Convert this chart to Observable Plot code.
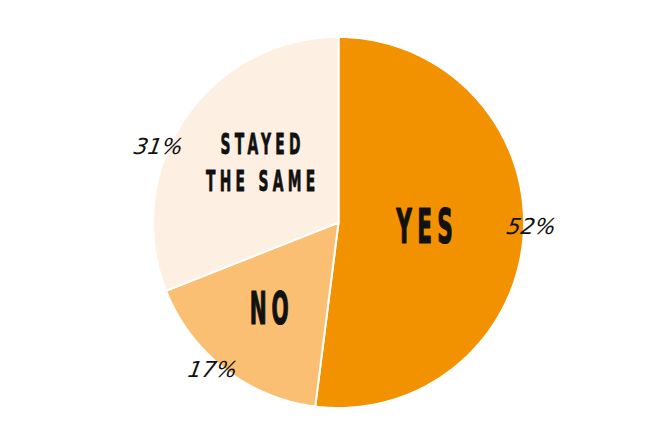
<!DOCTYPE html>
<html>
<head>
<meta charset="utf-8">
<script src="https://cdn.jsdelivr.net/npm/d3@7"></script>
<script src="https://cdn.jsdelivr.net/npm/@observablehq/plot@0.6"></script>
<style>
  html, body { margin: 0; padding: 0; background: #fff; }
  #chart { width: 650px; height: 446px; }
</style>
</head>
<body>
<div id="chart"></div>
<script>
// ---- data ----
const categories = ["YES", "NO", "STAYED\nTHE SAME"];
const values = [52, 17, 31];
const percentLabels = ["52%", "17%", "31%"];
const colors = ["#F39200", "#FBBF74", "#FDEFE1"];

// ---- layout (not data) ----
const W = 650, H = 446, CX = 338, CY = 222, R = 185.5;
// label placement: angle (deg clockwise from top) and radius factor
const catPos = [{a: 93.5, r: 0.465}, {a: 218.5, r: 0.6}, {a: 308.5, r: 0.537}];
const pctPos = [{a: 91.2, r: 1.04}, {a: 220.4, r: 1.046}, {a: 292.9, r: 1.053}];
const catSize = [48, 45, 29];
const catSX = [0.5, 0.5, 0.53];   // horizontal condensing of the poster type
const catLS = [0.22, 0.22, 0.28]; // letter spacing (em)

const total = d3.sum(values);
let acc = 0;
const slices = values.map((v, i) => {
  const s = acc / total * 2 * Math.PI;
  acc += v;
  const e = acc / total * 2 * Math.PI;
  return {i, cat: categories[i], start: s, end: e};
});

// polygon vertices of each wedge (center + arc)
const wedgePts = [];
for (const sl of slices) {
  wedgePts.push({i: sl.i, x: 0, y: 0});
  const n = Math.max(8, Math.ceil((sl.end - sl.start) / (Math.PI / 180)));
  for (let k = 0; k <= n; k++) {
    const a = sl.start + (sl.end - sl.start) * k / n;
    wedgePts.push({i: sl.i, x: Math.sin(a), y: Math.cos(a)});
  }
  wedgePts.push({i: sl.i, x: 0, y: 0});
}

const pol = (p) => ({x: p.r * Math.sin(p.a * Math.PI / 180), y: p.r * Math.cos(p.a * Math.PI / 180)});
const catLabels = categories.map((c, i) => ({i, text: c, size: catSize[i], ...pol(catPos[i])}));
const pctData = percentLabels.map((t, i) => ({i, text: t, ...pol(pctPos[i])}));

const catFont = "'Liberation Sans Narrow', 'DejaVu Sans Condensed', 'DejaVu Sans', sans-serif";
const chart = Plot.plot({
  width: W,
  height: H,
  margin: 0,
  x: {domain: [-CX / R, (W - CX) / R], range: [0, W], axis: null},
  y: {domain: [-(H - CY) / R, CY / R], range: [H, 0], axis: null},
  marks: [
    Plot.line(wedgePts, {x: "x", y: "y", z: "i", fill: d => colors[d.i], stroke: "#fff", strokeWidth: 2, curve: "linear"}),
    Plot.text(catLabels.slice(0, 2), {x: "x", y: "y", text: "text", fontSize: d => d.size, fill: "#111", stroke: "#111", strokeWidth: 1.2, fontWeight: "bold", fontFamily: catFont}),
    Plot.text(catLabels.slice(2), {x: "x", y: "y", text: "text", fontSize: d => d.size, fill: "#111", stroke: "#111", strokeWidth: 0.8, fontWeight: "bold", lineHeight: 1.3, fontFamily: catFont}),
    Plot.text(pctData, {x: "x", y: "y", text: "text", fontSize: 22, fill: "#111", fontStyle: "italic", fontWeight: 200, fontFamily: "'DejaVu Sans', sans-serif"})
  ]
});

// condense the category labels (poster-style condensed type)
const groups = d3.select(chart).selectAll('g[aria-label="text"]').nodes();
let li = 0;
groups.slice(0, 2).forEach(g => {
  d3.select(g).selectAll("text").each(function() {
    const k = li++;
    const t = this.getAttribute("transform") || "";
    const fs = catSize[k];
    const ls = fs * catLS[k];
    this.setAttribute("transform", `${t} scale(${catSX[k]},1) translate(${ls / 2},0)`);
    this.setAttribute("letter-spacing", `${ls}px`);
  });
});
if (groups[2]) {
  d3.select(groups[2]).selectAll("text").each(function() {
    const t = this.getAttribute("transform") || "";
    this.setAttribute("transform", `${t} skewX(-10)`);
  });
}

document.getElementById("chart").appendChild(chart);
</script>
</body>
</html>
